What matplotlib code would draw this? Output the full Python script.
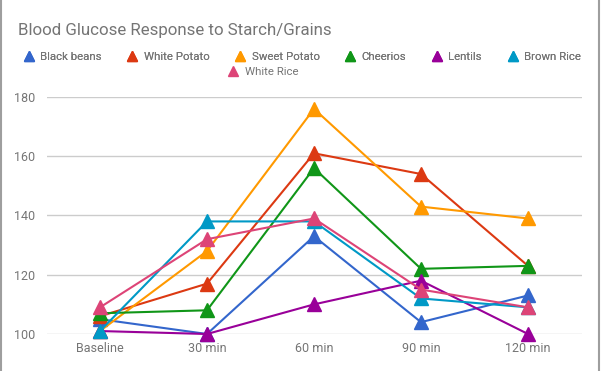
import matplotlib.pyplot as plt
from matplotlib.lines import Line2D

plt.rcParams['font.family'] = ['Roboto', 'DejaVu Sans']

times = ['Baseline', '30 min', '60 min', '90 min', '120 min']
series_names = ['Black beans', 'White Potato', 'Sweet Potato', 'Cheerios',
                'Lentils', 'Brown Rice', 'White Rice']
black_beans = [105, 100, 133, 104, 113]
white_potato = [106, 117, 161, 154, 123]
sweet_potato = [101, 128, 176, 143, 139]
cheerios = [107, 108, 156, 122, 123]
lentils = [101, 100, 110, 118, 100]
brown_rice = [101, 138, 138, 112, 109]
white_rice = [109, 132, 139, 115, 109]
yticks = [100, 120, 140, 160, 180]

all_series = [black_beans, white_potato, sweet_potato, cheerios,
              lentils, brown_rice, white_rice]
colors = ['#3366cc', '#dc3912', '#ff9900', '#109618',
          '#990099', '#0099c6', '#dd4477']

fig = plt.figure(figsize=(6.02, 3.71), dpi=100)
ax = fig.add_axes([46.5/602, 37/371, 535/602, 237/371])

x = range(len(times))
for vals, c, name in zip(all_series, colors, series_names):
    ax.plot(x, vals, color=c, lw=1.5, marker='^', ms=9.5, mec=c,
            label=name, clip_on=False, zorder=3)

ax.set_xlim(-0.5, 4.5)
ax.set_ylim(100, 180)
ax.set_yticks(yticks)
ax.set_xticks(list(x))
ax.set_xticklabels(times)
ax.grid(axis='y', color='#cccccc', lw=1)
ax.set_axisbelow(True)
for s in ax.spines.values():
    s.set_visible(False)
ax.tick_params(length=0, labelsize=9, labelcolor='#757575')
ax.tick_params(axis='y', pad=8)
ax.tick_params(axis='x', pad=6)

fig.text(18/602, 1 - 30/371, 'Blood Glucose Response to Starch/Grains',
         fontsize=12.2, color='#757575', va='center', ha='left')

handles = [Line2D([], [], ls='none', marker='^', ms=7, color=c, mec=c)
           for c in colors]
leg1 = fig.legend(handles[:6], series_names[:6], loc='center',
                  bbox_to_anchor=(302/602, 1 - 57/371), ncol=6, frameon=False,
                  fontsize=8.2, labelcolor='#757575', handlelength=1,
                  handletextpad=0.5, columnspacing=2.2, borderpad=0)
leg2 = fig.legend(handles[6:], series_names[6:], loc='center',
                  bbox_to_anchor=(263/602, 1 - 72/371), ncol=1, frameon=False,
                  fontsize=8.2, labelcolor='#757575', handlelength=1,
                  handletextpad=0.5, borderpad=0)
fig.add_artist(leg1)

fig.add_artist(Line2D([0.5/602, 0.5/602], [0, 1], color='#9e9e9e', lw=1.5))
fig.add_artist(Line2D([598.5/602, 598.5/602], [0, 1], color='#9e9e9e', lw=1.5))

fig.savefig('out.png', dpi=100)
